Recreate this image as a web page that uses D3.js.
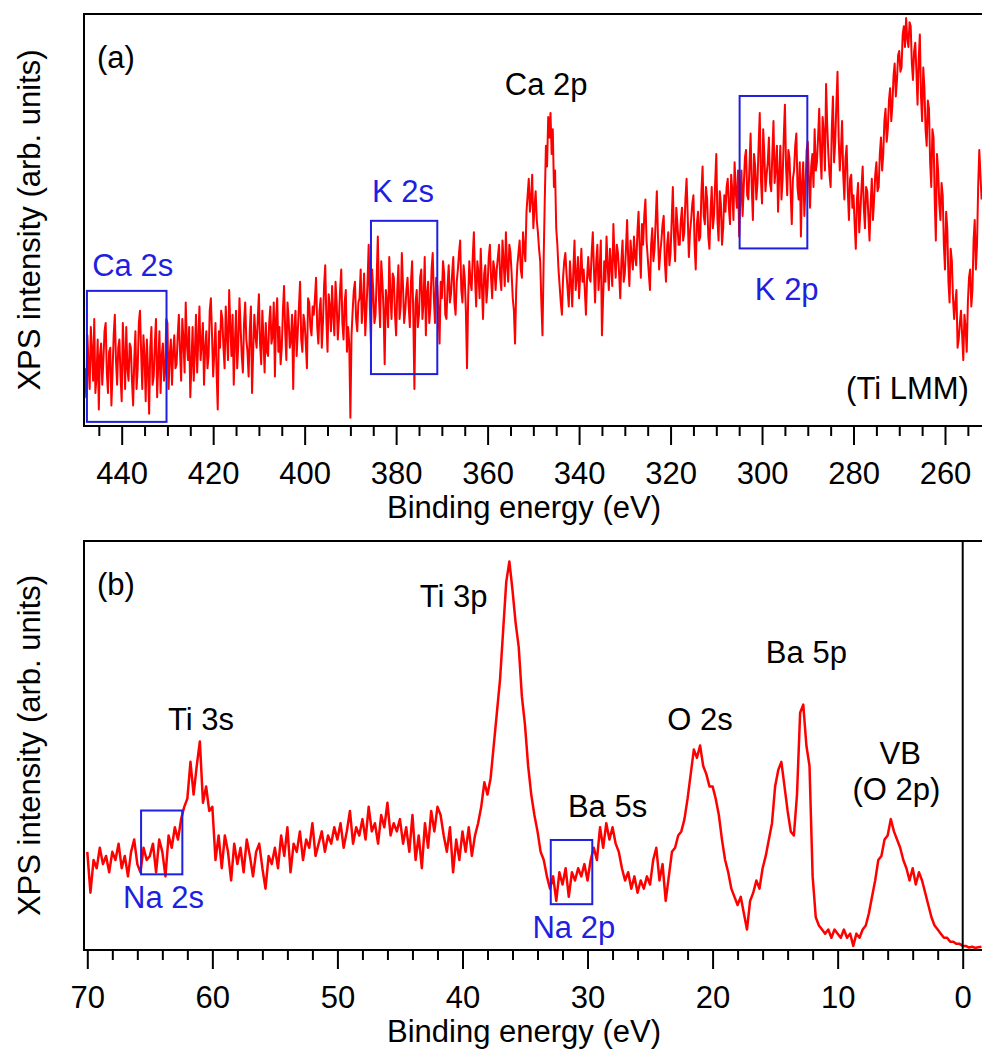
<!DOCTYPE html>
<html>
<head>
<meta charset="utf-8">
<script src="https://cdn.jsdelivr.net/npm/d3@7"></script>
<style>
    body { margin: 0; background: #fff; }
    svg { display: block; font-family: "Liberation Sans", Arial, sans-serif; }
</style>
</head>
<body>
<svg id="chart"></svg>
<script>
// XPS survey, two energy windows
// (a) 448 -> 252 eV, one point every 0.25 eV (one row = 10 eV)
const aStart = 448
const aStep = 0.25
const aIntensity = [
    14, 7, 22, 15, 9, 24, 18, 11, 26, 8, 12, 21, 4, 17, 20, 10, 16, 23, 25, 13, 8, 18, 19, 5, 13, 22, 27, 16, 10, 19, 21, 12, 6, 25, 17, 9, 24, 14, 11, 20,
    19, 11, 5, 16, 23, 9, 14, 25, 28, 18, 9, 22, 17, 6, 21, 14, 3, 19, 24, 10, 12, 20, 26, 7, 15, 23, 8, 17, 20, 11, 13, 26, 25, 9, 17, 21, 10, 18, 22, 14,
    15, 22, 27, 18, 11, 26, 21, 13, 30, 20, 16, 24, 7, 15, 24, 11, 18, 27, 13, 21, 29, 16, 20, 25, 10, 19, 23, 14, 17, 28, 31, 22, 12, 18, 25, 13, 4, 23, 19, 28,
    26, 19, 14, 29, 22, 16, 33, 24, 17, 27, 10, 20, 28, 14, 20, 31, 24, 17, 13, 25, 30, 21, 18, 12, 23, 29, 8, 18, 27, 22, 19, 26, 32, 20, 15, 28, 21, 13, 25, 18,
    17, 25, 29, 20, 22, 30, 12, 26, 31, 18, 24, 15, 19, 28, 34, 23, 16, 30, 26, 19, 21, 27, 9, 24, 28, 17, 23, 29, 35, 21, 18, 27, 25, 20, 14, 31, 30, 24, 22, 29,
    27, 31, 36, 24, 20, 28, 31, 19, 25, 34, 39, 26, 18, 32, 29, 23, 34, 27, 22, 35, 30, 21, 26, 33, 38, 25, 21, 30, 33, 18, 24, 20, 2, 22, 28, 33, 35, 26, 23, 30,
    31, 38, 25, 30, 37, 22, 28, 35, 44, 29, 20, 38, 33, 25, 27, 36, 46, 31, 24, 40, 35, 28, 15, 33, 30, 24, 41, 32, 26, 37, 36, 27, 22, 33, 39, 26, 29, 42, 34, 25,
    28, 33, 36, 29, 24, 35, 40, 27, 9, 30, 33, 24, 27, 36, 38, 26, 30, 41, 22, 32, 35, 25, 29, 38, 42, 31, 25, 36, 34, 28, 20, 35, 31, 40, 37, 27, 26, 34, 39, 30,
    32, 37, 41, 30, 27, 35, 38, 42, 45, 33, 30, 39, 36, 28, 14, 31, 40, 35, 33, 41, 47, 36, 29, 40, 37, 31, 43, 34, 26, 37, 39, 30, 34, 41, 44, 36, 31, 40, 38, 33,
    38, 41, 44, 36, 33, 45, 40, 34, 47, 39, 35, 44, 42, 37, 31, 28, 20, 33, 39, 42, 45, 38, 36, 47, 43, 40, 52, 56, 60, 52, 55, 61, 48, 53, 57, 50, 47, 43, 40, 30,
    22, 40, 55, 68, 63, 75, 70, 76, 66, 72, 58, 62, 48, 44, 38, 34, 30, 27, 36, 40, 42, 37, 33, 29, 40, 35, 29, 38, 45, 33, 36, 41, 31, 37, 43, 35, 38, 33, 27, 36,
    41, 36, 35, 42, 47, 38, 30, 40, 44, 33, 38, 45, 22, 31, 40, 35, 46, 39, 33, 43, 39, 34, 49, 41, 36, 44, 42, 37, 31, 40, 45, 35, 37, 43, 50, 40, 34, 45, 41, 38,
    46, 41, 39, 47, 52, 43, 36, 49, 44, 51, 55, 45, 41, 37, 33, 44, 48, 40, 43, 50, 57, 46, 38, 42, 45, 49, 51, 40, 35, 44, 47, 39, 42, 50, 58, 46, 40, 53, 49, 44,
    44, 50, 53, 45, 47, 55, 60, 51, 41, 47, 50, 54, 56, 44, 38, 49, 52, 45, 46, 57, 63, 51, 49, 58, 55, 46, 43, 52, 58, 48, 51, 59, 66, 50, 45, 57, 54, 44, 48, 56,
    52, 58, 60, 53, 49, 61, 57, 50, 64, 57, 53, 62, 46, 55, 62, 51, 58, 65, 67, 56, 55, 63, 71, 58, 50, 66, 63, 55, 59, 68, 76, 60, 54, 72, 66, 57, 61, 64, 70, 59,
    57, 66, 74, 59, 63, 68, 52, 61, 68, 55, 60, 70, 78, 63, 56, 67, 65, 57, 49, 60, 62, 68, 71, 58, 55, 64, 46, 59, 64, 51, 58, 67, 69, 60, 53, 63, 66, 58, 72, 62,
    64, 70, 77, 66, 60, 75, 71, 62, 83, 73, 66, 61, 58, 72, 80, 64, 69, 78, 86, 70, 62, 67, 74, 61, 55, 65, 68, 57, 50, 60, 61, 53, 56, 49, 43, 55, 59, 47, 52, 58,
    63, 53, 48, 58, 57, 51, 45, 54, 60, 50, 55, 61, 64, 57, 58, 66, 70, 62, 66, 74, 77, 69, 72, 79, 82, 74, 78, 85, 88, 80, 84, 90, 91, 86, 87, 95, 97, 92, 99, 94,
    92, 98, 97, 88, 84, 91, 93, 86, 78, 89, 95, 80, 74, 87, 82, 72, 68, 79, 77, 64, 58, 72, 70, 55, 45, 66, 62, 54, 50, 59, 56, 44, 38, 52, 48, 35, 30, 43, 40, 31,
    26, 30, 33, 19, 21, 25, 28, 22, 16, 27, 24, 18, 30, 36, 38, 29, 33, 45, 50, 38, 44, 58, 67, 61, 55
]

// (b) 70 -> -1.5 eV, one point every 0.25 eV (one row = 5 eV)
const bStart = 70
const bStep = 0.25
const bIntensity = [
    24, 14, 22, 20, 25, 21, 23, 19, 24, 22, 26, 20, 23, 18, 24, 27, 21, 19, 25, 22,
    23, 26, 19, 27, 24, 18, 28, 25, 30, 27, 32, 35, 37, 46, 38, 45, 51, 36, 40, 34,
    35, 22, 28, 20, 28, 24, 17, 26, 21, 25, 19, 27, 23, 18, 24, 26, 20, 15, 23, 21,
    25, 20, 28, 23, 30, 19, 26, 24, 29, 22, 27, 25, 31, 23, 26, 29, 24, 28, 26, 30,
    27, 31, 25, 29, 34, 26, 30, 28, 32, 27, 35, 29, 31, 26, 33, 30, 36, 28, 31, 29,
    32, 26, 30, 24, 33, 22, 28, 20, 31, 25, 34, 29, 35, 33, 28, 24, 30, 19, 27, 22,
    29, 24, 30, 23, 28, 31, 35, 41, 38, 42, 50, 58, 66, 78, 90, 95, 88, 80, 74, 62,
    55, 45, 38, 33, 29, 24, 22, 18, 15, 18, 12, 19, 16, 20, 13, 19, 17, 20, 18, 21,
    17, 22, 25, 22, 30, 25, 31, 27, 30, 26, 24, 20, 17, 19, 15, 18, 14, 17, 15, 18,
    16, 22, 25, 17, 21, 12, 18, 24, 25, 28, 29, 32, 37, 43, 49, 47, 50, 45, 43, 40,
    40, 37, 33, 27, 22, 19, 15, 13, 11, 13, 9, 5, 12, 14, 17, 15, 20, 23, 27, 31,
    40, 44, 46, 40, 34, 29, 28, 38, 58, 60, 50, 45, 18, 8, 6, 5, 4, 5, 3, 5,
    4, 3, 5, 3, 4, 1, 4, 3, 5, 6, 9, 13, 17, 22, 23, 27, 28, 32, 29, 27,
    25, 22, 20, 17, 20, 16, 19, 17, 14, 11, 8, 6, 5, 4, 3, 3, 2, 2, 1.5, 1.5,
    1, 1, 0.6, 0.8, 0.5, 0.7, 0.8
]

// tick labels
const aMajorTicks = [440, 420, 400, 380, 360, 340, 320, 300, 280, 260]
const bMajorTicks = [70, 60, 50, 40, 30, 20, 10, 0]

// marked regions [from eV, to eV, low, high]
const aBoxes = [
    [447.6, 430.2, 1.0, 32.8],
    [385.5, 371.0, 12.6, 49.8],
    [304.9, 290.1, 43.1, 80.1]
]
const bBoxes = [
    [65.7, 62.4, 18.5, 34.1],
    [32.94, 29.62, 11.2, 26.9]
]

// peak names [text, eV, intensity, blue?]
const aNames = [
    ["Ca 2s", 437.6, 36.4, true],
    ["K 2s", 378.5, 54.4, true],
    ["Ca 2p", 347.2, 80.3, false],
    ["K 2p", 294.6, 30.6, true],
    ["(Ti LMM)", 268.2, 6.6, false]
]
const bNames = [
    ["Ti 3s", 60.9, 53.8, false],
    ["Na 2s", 63.9, 10.3, true],
    ["Ti 3p", 40.7, 83.9, false],
    ["Ba 5s", 28.4, 32.5, false],
    ["Na 2p", 31.1, 2.9, true],
    ["O 2s", 21.0, 53.8, false],
    ["Ba 5p", 12.5, 70.2, false],
    ["VB", 5.0, 45.5, false],
    ["(O 2p)", 5.3, 36.7, false]
]

const svgWidth = 982
const svgHeight = 1064
const fontSize = 31
const red = "#ff0000"
const blue = "#1f1fe0"

const svg = d3.select("#chart")
    .attr("width", svgWidth)
    .attr("height", svgHeight)

function drawPanel(p) {
    var x = d3.scaleLinear().domain(p.xDomain).range([84, 982])
    var y = d3.scaleLinear().domain([0, 100]).range([p.bottom, p.top])

    var g = svg.append("g")

    g.append("clipPath").attr("id", p.id + "clip")
        .append("rect")
        .attr("x", 84).attr("y", p.top)
        .attr("width", 1000).attr("height", p.bottom - p.top)

    // series
    var pts = p.values.map((v, i) => [p.start - i * p.step, v])
    g.append("path")
        .datum(pts)
        .attr("clip-path", `url(#${p.id}clip)`)
        .attr("fill", "none")
        .attr("stroke", red)
        .attr("stroke-width", p.lineWidth)
        .attr("stroke-linejoin", "round")
        .attr("d", d3.line().x(d => x(d[0])).y(d => y(d[1])))

    // blue boxes
    g.selectAll(".box")
        .data(p.boxes)
        .enter()
        .append("rect")
        .attr("x", d => x(d[0]))
        .attr("y", d => y(d[3]))
        .attr("width", d => x(d[1]) - x(d[0]))
        .attr("height", d => y(d[2]) - y(d[3]))
        .attr("fill", "none")
        .attr("stroke", blue)
        .attr("stroke-width", 2)

    // Fermi level
    if (p.zeroLine) {
        g.append("line")
            .attr("x1", x(0)).attr("x2", x(0))
            .attr("y1", p.top).attr("y2", p.bottom)
            .attr("stroke", "black").attr("stroke-width", 2)
    }

    // frame (right side runs off the page)
    g.append("rect")
        .attr("x", 84).attr("y", p.top)
        .attr("width", 1000).attr("height", p.bottom - p.top)
        .attr("fill", "none")
        .attr("stroke", "black")
        .attr("stroke-width", 2)

    // ticks
    var lo = Math.min(...p.xDomain), hi = Math.max(...p.xDomain)
    var minor = d3.range(Math.ceil(lo / p.minorStep) * p.minorStep, hi, p.minorStep)
        .filter(t => !p.major.includes(t))

    g.append("g")
        .attr("transform", `translate(0,${p.bottom})`)
        .call(d3.axisBottom(x).tickValues(minor).tickSize(10).tickFormat(""))
        .call(a => a.select(".domain").remove())
        .selectAll("line").attr("stroke-width", 2)

    var ax = g.append("g")
        .attr("transform", `translate(0,${p.bottom})`)
        .call(d3.axisBottom(x).tickValues(p.major).tickSize(19).tickPadding(17).tickFormat(d3.format("d")))
        .call(a => a.select(".domain").remove())
    ax.selectAll("line").attr("stroke-width", 2)
    ax.selectAll("text")
        .attr("font-size", fontSize)
        .attr("font-family", "Liberation Sans, Arial, sans-serif")
        .attr("fill", "black")

    // axis titles
    g.append("text")
        .attr("x", 524)
        .attr("y", p.bottom + 92)
        .attr("text-anchor", "middle")
        .attr("font-size", fontSize)
        .text("Binding energy (eV)")

    g.append("text")
        .attr("transform", `translate(40,${(p.top + p.bottom) / 2}) rotate(-90)`)
        .attr("text-anchor", "middle")
        .attr("font-size", fontSize)
        .text("XPS intensity (arb. units)")

    // panel tag
    g.append("text")
        .attr("x", 97)
        .attr("y", p.top + 54)
        .attr("font-size", fontSize)
        .text(p.tag)

    // peak names
    g.selectAll(".name")
        .data(p.names)
        .enter()
        .append("text")
        .attr("x", d => x(d[1]))
        .attr("y", d => y(d[2]))
        .attr("text-anchor", "middle")
        .attr("font-size", fontSize)
        .attr("fill", d => d[3] ? blue : "black")
        .text(d => d[0])
}

drawPanel({
    id: "a", tag: "(a)", top: 14, bottom: 426,
    xDomain: [448.24, 251.91],
    start: aStart, step: aStep, values: aIntensity,
    major: aMajorTicks, minorStep: 5,
    boxes: aBoxes, names: aNames,
    lineWidth: 2, zeroLine: false
})

drawPanel({
    id: "b", tag: "(b)", top: 541, bottom: 950,
    xDomain: [70.264, -1.543],
    start: bStart, step: bStep, values: bIntensity,
    major: bMajorTicks, minorStep: 2,
    boxes: bBoxes, names: bNames,
    lineWidth: 2.5, zeroLine: true
})
</script>
</body>
</html>
